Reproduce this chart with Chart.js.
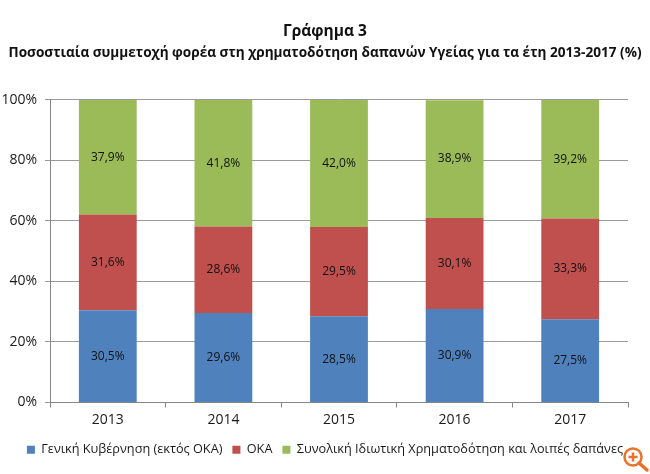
<!DOCTYPE html>
<html>
<head>
<meta charset="utf-8">
<script src="https://cdn.jsdelivr.net/npm/chart.js@4"></script>
<style>
  html, body { margin: 0; padding: 0; background: #fff; }
  #wrap { position: relative; width: 650px; height: 474px; }
  #zoomIcon { position: absolute; left: 620px; top: 444px; }
</style>
</head>
<body>
<div id="wrap">
  <canvas id="chart" width="650" height="474"></canvas>
  <svg id="zoomIcon" width="30" height="30" viewBox="0 0 30 30">
    <circle cx="13" cy="13" r="8.5" fill="#fff" stroke="#e8742a" stroke-width="2.5"/>
    <path d="M19 19 L27 26" stroke="#e8742a" stroke-width="3.5" stroke-linecap="round"/>
    <path d="M13 8.5 V17.5 M8.5 13 H17.5" stroke="#e8742a" stroke-width="2.5"/>
  </svg>
</div>
<script>
const years = ['2013', '2014', '2015', '2016', '2017'];
const genikiKyvernisi = [30.5, 29.6, 28.5, 30.9, 27.5];
const oka = [31.6, 28.6, 29.5, 30.1, 33.3];
const idiotiki = [37.9, 41.8, 42.0, 38.9, 39.2];

const seriesNames = ['Γενική Κυβέρνηση (εκτός ΟΚΑ)', 'ΟΚΑ', 'Συνολική Ιδιωτική Χρηματοδότηση και λοιπές δαπάνες'];
const titleText = 'Γράφημα 3';
const subtitleText = 'Ποσοστιαία συμμετοχή φορέα στη χρηματοδότηση δαπανών Υγείας για τα έτη 2013-2017 (%)';

const fontName = '"Open Sans", "Noto Sans", sans-serif';

// labels inside the bars, 42,0% style
const barLabels = {
    id: 'barLabels',
    afterDatasetsDraw(chart) {
        const ctx = chart.ctx;
        ctx.save();
        ctx.font = '12px ' + fontName;
        ctx.fillStyle = '#111';
        ctx.textAlign = 'center';
        ctx.textBaseline = 'middle';
        chart.data.datasets.forEach((ds, i) => {
            chart.getDatasetMeta(i).data.forEach((bar, j) => {
                const mid = (bar.y + bar.base) / 2;
                ctx.fillText(ds.data[j].toFixed(1).replace('.', ',') + '%', bar.x, mid);
            });
        });
        ctx.restore();
    }
};

new Chart(document.getElementById('chart'), {
    type: 'bar',
    data: {
        labels: years,
        datasets: [
            { label: seriesNames[0], data: genikiKyvernisi, backgroundColor: '#4f81bd' },
            { label: seriesNames[1], data: oka, backgroundColor: '#c0504d' },
            { label: seriesNames[2], data: idiotiki, backgroundColor: '#9bbb59' }
        ]
    },
    options: {
        responsive: false,
        animation: false,
        layout: { padding: { left: 0, right: 0, top: 0, bottom: 8 } },
        barPercentage: 0.5,
        categoryPercentage: 1,
        scales: {
            x: {
                stacked: true,
                border: { color: '#868686' },
                grid: { display: true, drawOnChartArea: false, drawTicks: true, tickLength: 5, color: '#868686' },
                ticks: { color: '#1a1a1a', font: { family: fontName, size: 14 }, padding: 4 },
                afterFit(scale) { scale.height += 1; }
            },
            y: {
                stacked: true,
                min: 0,
                max: 100,
                border: { color: '#868686' },
                grid: { color: '#9a9a9a', tickLength: 5 },
                afterFit(scale) { scale.width = 50; },
                ticks: {
                    stepSize: 20,
                    color: '#1a1a1a',
                    padding: 8,
                    font: { family: fontName, size: 14 },
                    callback: v => v + '%'
                }
            },
            // empty axis, only keeps the plot clear of the right edge
            rightGap: {
                position: 'right',
                min: 0,
                max: 100,
                border: { display: false },
                grid: { display: false },
                ticks: { display: false },
                afterFit(scale) { scale.width = 22; }
            }
        },
        plugins: {
            title: {
                display: true,
                text: titleText,
                color: '#111',
                font: { family: fontName, size: 15.5, weight: 'bold' },
                padding: { top: 22, bottom: 4 }
            },
            subtitle: {
                display: true,
                text: subtitleText,
                color: '#111',
                font: { family: fontName, size: 13.6, weight: 'bold' },
                padding: { bottom: 39 }
            },
            legend: {
                position: 'bottom',
                labels: {
                    color: '#1a1a1a',
                    font: { family: fontName, size: 12.7 },
                    boxWidth: 8,
                    boxHeight: 8,
                    padding: 10
                }
            },
            tooltip: { enabled: false }
        }
    },
    plugins: [barLabels]
});
</script>
</body>
</html>
